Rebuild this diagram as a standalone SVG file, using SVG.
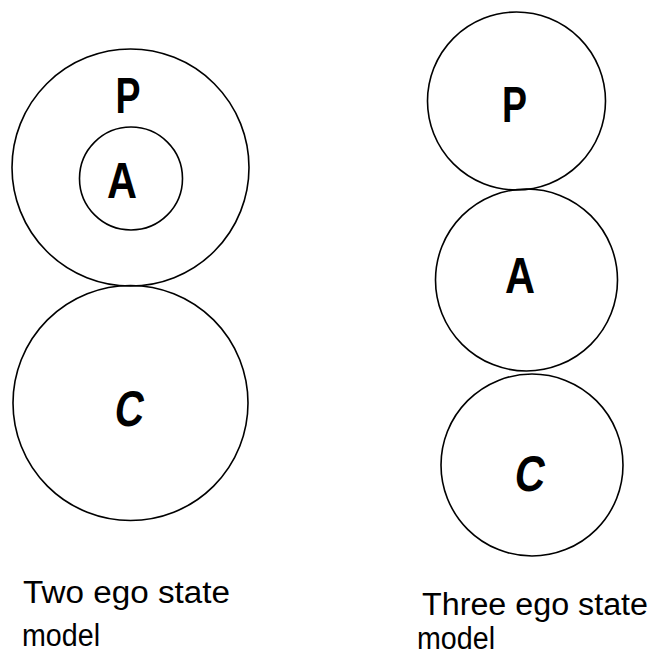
<svg xmlns="http://www.w3.org/2000/svg" width="651" height="656" viewBox="0 0 651 656">
<style>
.c{fill:none;stroke:#000;stroke-width:1.6}
.l{font-family:"Liberation Sans",Arial,sans-serif;font-weight:bold;font-size:50px;fill:#000;text-anchor:middle}
.t{font-family:"Liberation Sans",Arial,sans-serif;font-size:31px;fill:#000}
</style>
<rect width="651" height="656" fill="#fff"/>
<g id="two-ego">
<g id="left-P"><circle class="c" cx="130.5" cy="167.5" r="118.5"/><text class="l" x="128" y="113" textLength="25" lengthAdjust="spacingAndGlyphs">P</text></g>
<g id="left-A"><circle class="c" cx="131" cy="178.5" r="51.5"/><text class="l" x="122" y="198" textLength="30" lengthAdjust="spacingAndGlyphs">A</text></g>
<g id="left-C"><circle class="c" cx="130.5" cy="403" r="117.5"/><text class="l" x="130.5" y="426" textLength="29" lengthAdjust="spacingAndGlyphs" transform="skewX(-8) translate(57 0)">C</text></g>
<text class="t" x="23" y="603" textLength="207" lengthAdjust="spacingAndGlyphs">Two ego state</text>
<text class="t" x="22" y="646" textLength="78" lengthAdjust="spacingAndGlyphs">model</text>
</g>
<g id="three-ego">
<g id="right-P"><circle class="c" cx="516.5" cy="101" r="89"/><text class="l" x="514.5" y="122" textLength="25" lengthAdjust="spacingAndGlyphs">P</text></g>
<g id="right-A"><circle class="c" cx="526.5" cy="280" r="91"/><text class="l" x="520" y="293" textLength="30" lengthAdjust="spacingAndGlyphs">A</text></g>
<g id="right-C"><circle class="c" cx="532" cy="465" r="91"/><text class="l" x="528" y="491" textLength="30" lengthAdjust="spacingAndGlyphs" transform="skewX(-8) translate(69 0)">C</text></g>
<text class="t" x="422" y="615" textLength="226" lengthAdjust="spacingAndGlyphs">Three ego state</text>
<text class="t" x="417" y="649" font-size="29" textLength="78" lengthAdjust="spacingAndGlyphs">model</text>
</g>
</svg>
